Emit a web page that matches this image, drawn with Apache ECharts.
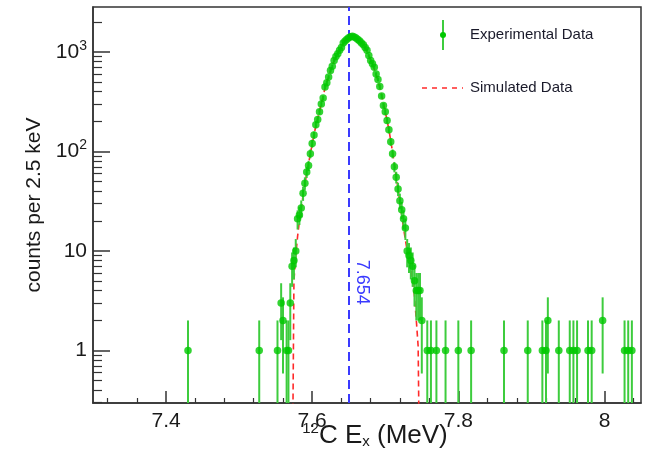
<!DOCTYPE html>
<html><head><meta charset="utf-8">
<script src="https://cdn.jsdelivr.net/npm/echarts@6/dist/echarts.min.js"></script>
<style>html,body{margin:0;padding:0;background:#fff}#c{width:661px;height:467px}</style>
</head><body><div id="c"></div>
<script>
// Experimental data: excitation energy (MeV) and counts per 2.5 keV bin
const expX = [7.430, 7.5275, 7.5525, 7.5575, 7.5600, 7.5650, 7.5675, 7.5700,
  7.5725, 7.5750, 7.5775, 7.5800, 7.5825, 7.5850, 7.5875, 7.5900, 7.5925, 7.5950, 7.5975,
  7.6000, 7.6025, 7.6050, 7.6075, 7.6100, 7.6125, 7.6150, 7.6175, 7.6200, 7.6225, 7.6250,
  7.6275, 7.6300, 7.6325, 7.6350, 7.6375, 7.6400, 7.6425, 7.6450, 7.6475, 7.6500, 7.6525,
  7.6550, 7.6575, 7.6600, 7.6625, 7.6650, 7.6675, 7.6700, 7.6725, 7.6750, 7.6775, 7.6800,
  7.6825, 7.6850, 7.6875, 7.6900, 7.6925, 7.6950, 7.6975, 7.7000, 7.7025, 7.7050, 7.7075,
  7.7100, 7.7125, 7.7150, 7.7175, 7.7200, 7.7225, 7.7250, 7.7275, 7.7300, 7.7325, 7.7350,
  7.7375, 7.7400, 7.7425, 7.7450, 7.7475, 7.7500,
  7.7575, 7.7625, 7.7700, 7.7825, 7.8000, 7.8175, 7.8625, 7.8950, 7.9150, 7.9200, 7.9225,
  7.9375, 7.9525, 7.9575, 7.9625, 7.9775, 7.9825, 7.9975, 8.0275, 8.0325, 8.0375];
const expY = [1, 1, 1, 3, 2, 1, 1, 3,
  7, 8, 10, 21, 23, 27, 38, 48, 62, 72, 95,
  120, 146, 185, 210, 250, 300, 345, 445, 490, 560, 650,
  720, 820, 900, 960, 1040, 1110, 1230, 1290, 1340, 1390, 1420,
  1440, 1410, 1380, 1330, 1290, 1230, 1180, 1110, 1040, 920, 820,
  760, 700, 600, 530, 450, 360, 290, 250, 205, 165, 125,
  95, 70, 55, 42, 32, 26, 21, 17, 10, 9, 8,
  7, 5, 4, 4, 4, 2,
  1, 1, 1, 1, 1, 1, 1, 1, 1, 1, 2,
  1, 1, 1, 1, 1, 1, 2, 1, 1, 1];

// Simulated data
const simX = [7.5725, 7.5750, 7.5775, 7.5800, 7.5825, 7.5850, 7.5875, 7.5900, 7.5925, 7.5950,
  7.5975, 7.6000, 7.6025, 7.6050, 7.6075, 7.6100, 7.6125, 7.6150, 7.6175, 7.6200, 7.6225,
  7.6250, 7.6275, 7.6300, 7.6325, 7.6350, 7.6375, 7.6400, 7.6425, 7.6450, 7.6475, 7.6500,
  7.6525, 7.6550, 7.6575, 7.6600, 7.6625, 7.6650, 7.6675, 7.6700, 7.6725, 7.6750, 7.6775,
  7.6800, 7.6825, 7.6850, 7.6875, 7.6900, 7.6925, 7.6950, 7.6975, 7.7000, 7.7025, 7.7050,
  7.7075, 7.7100, 7.7125, 7.7150, 7.7175, 7.7200, 7.7225, 7.7250, 7.7275, 7.7300, 7.7325,
  7.7350, 7.7375, 7.7400, 7.7425, 7.7450, 7.7475];
const simY = [0.02, 5, 9, 14, 20, 27, 36, 47, 60, 75,
  95, 118, 148, 180, 215, 255, 305, 360, 430, 495, 565,
  645, 725, 810, 890, 970, 1050, 1130, 1210, 1280, 1340, 1385,
  1415, 1425, 1410, 1375, 1330, 1280, 1220, 1160, 1090, 1010, 920,
  830, 750, 670, 590, 515, 440, 370, 305, 250, 205, 165,
  128, 98, 74, 56, 42, 31, 23, 17, 13, 10, 8,
  6.5, 5, 3.5, 2, 1.1, 0.02];

const peakE = 7.654;
const peakLabel = '7.654';
const xMajorTicks = [7.4, 7.6, 7.8, 8.0];
const xMinorTicks = [7.32, 7.36, 7.44, 7.48, 7.52, 7.56, 7.64, 7.68, 7.72, 7.76, 7.84, 7.88, 7.92, 7.96, 8.04];
const yMajorTicks = [1, 10, 100, 1000];
const yMinorTicks = [0.3, 0.4, 0.5, 0.6, 0.7, 0.8, 0.9, 2, 3, 4, 5, 6, 7, 8, 9,
  20, 30, 40, 50, 60, 70, 80, 90, 200, 300, 400, 500, 600, 700, 800, 900, 2000];
const xRange = [7.3, 8.05];
const yRange = [0.296, 2830];

const FONT = 'Liberation Sans, Arial, Helvetica, sans-serif';
const chart = echarts.init(document.getElementById('c'), null, {renderer: 'canvas'});

function renderErr(params, api) {
  const x = api.value(0), y = api.value(1);
  const e = Math.sqrt(y);
  const cs = params.coordSys;
  const bottom = cs.y + cs.height, top = cs.y;
  const pHi = api.coord([x, y + e]);
  let yLo = (y - e > 0) ? api.coord([x, y - e])[1] : bottom;
  if (!(yLo <= bottom)) yLo = bottom;
  const yHi = Math.max(pHi[1], top);
  return {type: 'line', shape: {x1: pHi[0], y1: yHi, x2: pHi[0], y2: yLo},
    style: {stroke: '#3dcc3d', lineWidth: 2}};
}

const expData = expX.map((x, i) => [x, expY[i]]);
const simData = simX.map((x, i) => [x, simY[i]]);

const supLabel = v => {
  const e = Math.round(Math.log10(v));
  if (e === 0) return '1';
  if (e === 1) return '10';
  return '10{s|' + e + '}';
};

chart.setOption({
  animation: false,
  backgroundColor: '#fff',
  grid: {left: 93, right: 20, top: 7, bottom: 64, show: true, borderColor: '#333', borderWidth: 1.5},
  xAxis: [
    {type: 'value', min: xRange[0], max: xRange[1], position: 'bottom',
      axisLine: {show: true, lineStyle: {color: '#333', width: 1.5}},
      axisTick: {show: true, inside: true, length: 12, customValues: xMajorTicks, lineStyle: {color: '#333', width: 1.5}},
      axisLabel: {show: true, customValues: xMajorTicks, margin: 8, color: '#1a1a1a', fontFamily: FONT, fontSize: 21,
        formatter: v => String(Math.round(v * 10) / 10)},
      splitLine: {show: false}},
    {type: 'value', min: xRange[0], max: xRange[1], position: 'bottom',
      axisLine: {show: false},
      axisTick: {show: true, inside: true, length: 5, customValues: xMinorTicks, lineStyle: {color: '#333', width: 1.2}},
      axisLabel: {show: false}, splitLine: {show: false}}
  ],
  yAxis: [
    {type: 'log', logBase: 10, min: yRange[0], max: yRange[1], position: 'left',
      name: 'counts per 2.5 keV', nameLocation: 'middle', nameGap: 47, nameRotate: 90,
      nameTextStyle: {color: '#1a1a1a', fontFamily: FONT, fontSize: 21},
      axisLine: {show: true, lineStyle: {color: '#333', width: 1.5}},
      axisTick: {show: true, inside: true, length: 17, customValues: yMajorTicks, lineStyle: {color: '#333', width: 1.5}},
      axisLabel: {show: true, customValues: yMajorTicks, margin: 6, color: '#1a1a1a', fontFamily: FONT, fontSize: 21,
        formatter: supLabel,
        rich: {s: {fontSize: 14, fontFamily: FONT, color: '#1a1a1a', padding: [0, 0, 12, 0]}}},
      splitLine: {show: false}},
    {type: 'log', logBase: 10, min: yRange[0], max: yRange[1], position: 'left',
      axisLine: {show: false},
      axisTick: {show: true, inside: true, length: 9, customValues: yMinorTicks, lineStyle: {color: '#333', width: 1.2}},
      axisLabel: {show: false}, splitLine: {show: false}}
  ],
  series: [
    {type: 'line', name: 'Simulated Data', data: simData, xAxisIndex: 0, yAxisIndex: 0,
      showSymbol: false, symbol: 'none', clip: true, z: 3,
      lineStyle: {color: '#ff2a2a', width: 1.6, type: [6, 4]},
      markLine: {silent: true, symbol: 'none', label: {show: false},
        lineStyle: {color: '#3a3aff', width: 2, type: [9, 5]},
        data: [{xAxis: peakE}]}},
    {type: 'custom', name: 'errors', data: expData, xAxisIndex: 0, yAxisIndex: 0,
      renderItem: renderErr, clip: true, z: 4},
    {type: 'scatter', name: 'Experimental Data', data: expData, xAxisIndex: 0, yAxisIndex: 0,
      symbol: 'circle', symbolSize: 7.5, itemStyle: {color: '#00c800'}, clip: true, z: 5}
  ]
});

const lp = chart.convertToPixel({xAxisIndex: 0, yAxisIndex: 0}, [peakE, 4.85]);
chart.setOption({
  graphic: [
    {type: 'text', x: lp[0] + 10, y: lp[1], rotation: -Math.PI / 2,
      style: {text: peakLabel, fill: '#3a3aff', font: '18px ' + FONT, align: 'center', verticalAlign: 'middle'}},
    {type: 'text', x: 375, y: 436,
      style: {text: '{sup|12}{n|C E}{sub|x}{n| (MeV)}', align: 'center', verticalAlign: 'middle',
        rich: {
          n: {fontSize: 26, fontFamily: FONT, fill: '#1a1a1a'},
          sup: {fontSize: 15, fontFamily: FONT, fill: '#1a1a1a', padding: [0, 0, 14, 0]},
          sub: {fontSize: 15, fontFamily: FONT, fill: '#1a1a1a', padding: [12, 0, 0, 0]}
        }}},
    {type: 'line', shape: {x1: 443, y1: 20, x2: 443, y2: 50}, style: {stroke: '#3dcc3d', lineWidth: 2}},
    {type: 'circle', shape: {cx: 443, cy: 35, r: 3}, style: {fill: '#00c800'}},
    {type: 'text', x: 470, y: 35, style: {text: 'Experimental Data', fill: '#1a1a2a', font: '15px ' + FONT, verticalAlign: 'middle'}},
    {type: 'line', shape: {x1: 422, y1: 88, x2: 463, y2: 88}, style: {stroke: '#ff2a2a', lineWidth: 1.6, lineDash: [5, 5]}},
    {type: 'text', x: 470, y: 88, style: {text: 'Simulated Data', fill: '#1a1a2a', font: '15px ' + FONT, verticalAlign: 'middle'}}
  ]
});
</script>
</body></html>
